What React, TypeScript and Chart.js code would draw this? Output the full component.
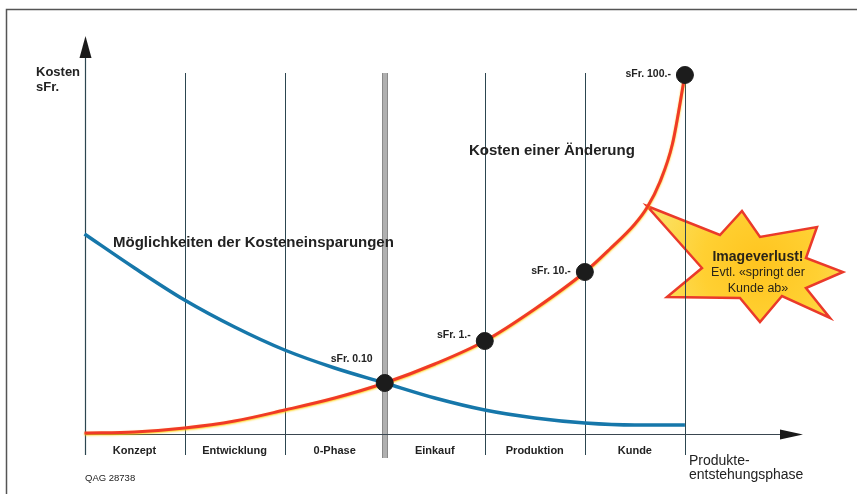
import { useEffect, useRef } from "react";
import { Chart, registerables } from "chart.js";
Chart.register(...registerables);

// Phases along the x axis (one unit each)
const phases = ["Konzept", "Entwicklung", "0-Phase", "Einkauf", "Produktion", "Kunde"];

// "Kosten einer Änderung" curve (red)
const changeX = [0, 0.5, 1, 1.5, 2, 2.5, 3, 3.5, 4, 4.5, 5, 5.25, 5.5, 5.625, 5.75, 5.875, 6];
const changeCost = [1, 2, 6, 13, 24, 36, 51, 70, 93, 125, 162, 185, 210, 227, 252, 290, 359];

// "Möglichkeiten der Kosteneinsparungen" curve (blue)
const savingX = [0, 0.5, 1, 1.5, 2, 2.5, 3, 3.5, 4, 4.5, 5, 5.5, 6];
const savingPotential = [200, 166, 134, 107, 84, 66, 51, 36, 24, 16, 11, 9, 9];

// Milestone markers on the red curve
const milestoneX = [3, 4, 5, 6];
const milestoneLabels = ["sFr. 0.10", "sFr. 1.-", "sFr. 10.-", "sFr. 100.-"];

const FONT = "'Liberation Sans', Arial, Helvetica, sans-serif";

export default function App() {
  const ref = useRef<HTMLCanvasElement | null>(null);

  useEffect(() => {
    document.body.style.margin = "0";
    const canvas = ref.current;
    if (!canvas) return;

    const milestones = milestoneX.map((mx) => ({ x: mx, y: changeCost[changeX.indexOf(mx)] }));

    const decor = {
      id: "decor",
      beforeDatasetDraw(chart: any, args: any) {
        if (args.index === 1) {
          chart.ctx.save();
          chart.ctx.shadowColor = "rgba(255, 205, 0, 0.9)";
          chart.ctx.shadowBlur = 2;
          chart.ctx.shadowOffsetY = 1;
        }
      },
      afterDatasetDraw(chart: any, args: any) {
        if (args.index === 1) chart.ctx.restore();
      },
      beforeDatasetsDraw(chart: any) {
        const { ctx, chartArea: area } = chart;
        const xs = chart.scales.x;
        const ys = chart.scales.y;
        ctx.save();
        // frame
        ctx.strokeStyle = "#555";
        ctx.lineWidth = 1.5;
        ctx.beginPath();
        ctx.moveTo(6.5, 494);
        ctx.lineTo(6.5, 9.5);
        ctx.lineTo(857, 9.5);
        ctx.stroke();

        // star (drawn below the phase lines)
        const cx = xs.getPixelForValue(6.75);
        const cy = ys.getPixelForValue(170);
        const star = [
          [-113, -58], [-40, -29], [-18, -53], [0, -27], [57, -37], [46, -6],
          [83, 8], [46, 24], [70, 54], [22, 32], [0, 58], [-20, 34], [-93, 33], [-58, 4],
        ];
        const grad = ctx.createRadialGradient(cx, cy, 5, cx, cy, 110);
        grad.addColorStop(0, "#ffc520");
        grad.addColorStop(0.5, "#ffd032");
        grad.addColorStop(1, "#fbe060");
        ctx.fillStyle = grad;
        ctx.strokeStyle = "#ea3a2a";
        ctx.lineWidth = 2.5;
        ctx.lineJoin = "miter";
        ctx.beginPath();
        star.forEach(([dx, dy], i) => {
          if (i === 0) ctx.moveTo(cx + dx, cy + dy);
          else ctx.lineTo(cx + dx, cy + dy);
        });
        ctx.closePath();
        ctx.fill();
        ctx.stroke();

        const gridTop = ys.getPixelForValue(361);
        const tickBottom = area.bottom + 21;
        // vertical phase lines
        for (let i = 1; i <= phases.length; i++) {
          const px = Math.round(xs.getPixelForValue(i));
          if (i === 3) {
            ctx.fillStyle = "#b0b0b0";
            ctx.fillRect(px - 3, gridTop, 6, tickBottom + 3 - gridTop);
            ctx.fillStyle = "#8a8a8a";
            ctx.fillRect(px - 3, gridTop, 1, tickBottom + 3 - gridTop);
            ctx.fillRect(px + 2, gridTop, 1, tickBottom + 3 - gridTop);
          } else {
            ctx.strokeStyle = "#2c4650";
            ctx.lineWidth = 1;
            ctx.beginPath();
            ctx.moveTo(px + 0.5, gridTop);
            ctx.lineTo(px + 0.5, tickBottom);
            ctx.stroke();
          }
        }
        // y axis
        const x0 = Math.round(xs.getPixelForValue(0)) + 0.5;
        ctx.strokeStyle = "#2c4650";
        ctx.lineWidth = 1.2;
        ctx.beginPath();
        ctx.moveTo(x0, tickBottom);
        ctx.lineTo(x0, area.top + 20);
        ctx.stroke();
        ctx.fillStyle = "#1a1a1a";
        ctx.beginPath();
        ctx.moveTo(x0, area.top);
        ctx.lineTo(x0 - 6, area.top + 22);
        ctx.lineTo(x0 + 6, area.top + 22);
        ctx.closePath();
        ctx.fill();
        // x axis
        const y0 = Math.round(area.bottom) + 0.5;
        ctx.strokeStyle = "#3a4650";
        ctx.lineWidth = 1.2;
        ctx.beginPath();
        ctx.moveTo(x0, y0);
        ctx.lineTo(area.right - 20, y0);
        ctx.stroke();
        ctx.fillStyle = "#1a1a1a";
        ctx.beginPath();
        ctx.moveTo(area.right, y0);
        ctx.lineTo(area.right - 23, y0 - 5);
        ctx.lineTo(area.right - 23, y0 + 5);
        ctx.closePath();
        ctx.fill();
        ctx.restore();
      },
      afterDatasetsDraw(chart: any) {
        const { ctx, chartArea: area } = chart;
        const xs = chart.scales.x;
        const ys = chart.scales.y;
        ctx.save();
        ctx.fillStyle = "#222";
        ctx.textBaseline = "middle";

        // phase labels
        ctx.font = `bold 11px ${FONT}`;
        ctx.textAlign = "center";
        phases.forEach((p, i) => {
          ctx.fillText(p, xs.getPixelForValue(i + 0.5), area.bottom + 17);
        });

        // axis titles
        ctx.textAlign = "left";
        ctx.font = `bold 13px ${FONT}`;
        ctx.fillText("Kosten", 36, 72);
        ctx.fillText("sFr.", 36, 87);
        ctx.font = `14px ${FONT}`;
        ctx.fillText("Produkte-", xs.getPixelForValue(6) + 4, area.bottom + 27);
        ctx.fillText("entstehungsphase", xs.getPixelForValue(6) + 4, area.bottom + 41);
        ctx.font = `9.5px ${FONT}`;
        ctx.fillText("QAG 28738", 85, area.bottom + 44);

        // curve titles
        ctx.font = `bold 15px ${FONT}`;
        ctx.fillText("Möglichkeiten der Kosteneinsparungen", 113, 243);
        ctx.fillText("Kosten einer Änderung", 469, 151);

        // milestone labels
        ctx.font = `bold 10.5px ${FONT}`;
        ctx.textAlign = "right";
        milestones.forEach((m, i) => {
          const px = xs.getPixelForValue(m.x);
          const py = ys.getPixelForValue(m.y);
          if (i === 0) ctx.fillText(milestoneLabels[i], px - 12, py - 24);
          else ctx.fillText(milestoneLabels[i], px - 14, py - (i === 1 ? 6 : 1));
        });

        // star text
        ctx.fillStyle = "#2a2418";
        ctx.textAlign = "center";
        ctx.font = `bold 14px ${FONT}`;
        ctx.fillText("Imageverlust!", 758, 257);
        ctx.font = `12.5px ${FONT}`;
        ctx.fillText("Evtl. «springt der", 758, 273);
        ctx.fillText("Kunde ab»", 758, 289);
        ctx.restore();
      },
    };

    const chart = new Chart(canvas, {
      type: "line",
      data: {
        datasets: [
          {
            label: "Meilensteine",
            data: milestones,
            showLine: false,
            pointRadius: 8.5,
            pointBackgroundColor: "#1c1c1c",
            pointBorderColor: "#1c1c1c",
            order: 0,
            clip: false,
          } as any,
          {
            label: "Kosten einer Änderung",
            data: changeX.map((x, i) => ({ x, y: changeCost[i] })),
            borderColor: "#f03a26",
            borderWidth: 3,
            pointRadius: 0,
            cubicInterpolationMode: "monotone",
            order: 1,
            clip: false,
          } as any,
          {
            label: "Möglichkeiten der Kosteneinsparungen",
            data: savingX.map((x, i) => ({ x, y: savingPotential[i] })),
            borderColor: "#1677aa",
            borderWidth: 3.5,
            pointRadius: 0,
            cubicInterpolationMode: "monotone",
            order: 2,
            clip: false,
          } as any,
        ],
      },
      options: {
        animation: false,
        responsive: true,
        maintainAspectRatio: false,
        layout: { padding: { left: 84.5, right: 54, top: 36, bottom: 60 } },
        plugins: { legend: { display: false }, tooltip: { enabled: false } },
        scales: {
          x: { type: "linear", min: 0, max: 7.18, display: false },
          y: { type: "linear", min: 0, max: 398, display: false },
        },
      },
      plugins: [decor],
    });
    return () => chart.destroy();
  }, []);

  return (
    <div style={{ width: 857, height: 494, position: "relative", background: "#fff" }}>
      <canvas ref={ref} />
    </div>
  );
}
